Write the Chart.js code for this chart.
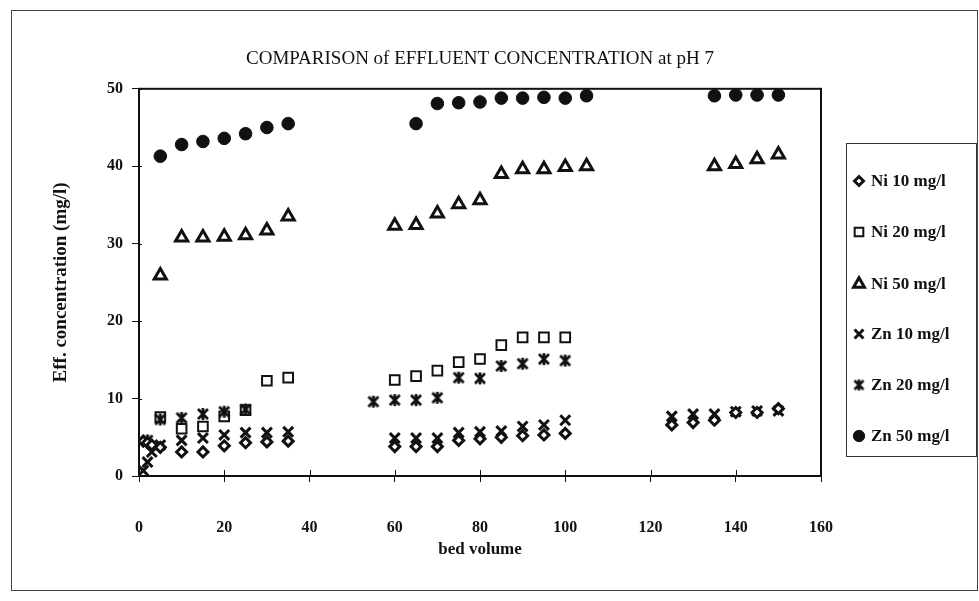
<!DOCTYPE html>
<html><head><meta charset="utf-8">
<script src="https://cdn.jsdelivr.net/npm/chart.js@4.4.1/dist/chart.umd.min.js"></script>
<style>html,body{margin:0;padding:0;background:#fff;}#wrap{width:979px;height:601px;}</style>
</head><body><div id="wrap"><canvas id="c" width="979" height="601"></canvas></div>
<script>
// ---- data ----
const seriesNames = ['Ni 10 mg/l', 'Ni 20 mg/l', 'Ni 50 mg/l', 'Zn 10 mg/l', 'Zn 20 mg/l', 'Zn 50 mg/l'];

const ni10X = [1, 2, 3, 5, 10, 15, 20, 25, 30, 35, 60, 65, 70, 75, 80, 85, 90, 95, 100, 125, 130, 135, 140, 145, 150];
const ni10Y = [4.5, 4.3, 4.0, 3.7, 3.1, 3.1, 3.9, 4.3, 4.4, 4.5, 3.8, 3.8, 3.8, 4.6, 4.8, 5.0, 5.2, 5.3, 5.5, 6.6, 6.9, 7.2, 8.2, 8.2, 8.7];

const ni20X = [5, 10, 15, 20, 25, 30, 35, 60, 65, 70, 75, 80, 85, 90, 95, 100];
const ni20Y = [7.6, 6.1, 6.4, 7.7, 8.5, 12.3, 12.7, 12.4, 12.9, 13.6, 14.7, 15.1, 16.9, 17.9, 17.9, 17.9];

const ni50X = [5, 10, 15, 20, 25, 30, 35, 60, 65, 70, 75, 80, 85, 90, 95, 100, 105, 135, 140, 145, 150];
const ni50Y = [25.9, 30.8, 30.8, 30.9, 31.1, 31.7, 33.5, 32.3, 32.4, 33.9, 35.1, 35.6, 39.0, 39.6, 39.6, 39.9, 40.0, 40.0, 40.3, 40.9, 41.5];

const zn10X = [1, 2, 3, 5, 10, 15, 20, 25, 30, 35, 60, 65, 70, 75, 80, 85, 90, 95, 100, 125, 130, 135, 140, 145, 150];
const zn10Y = [0.7, 1.8, 3.1, 4.0, 4.6, 4.9, 5.3, 5.6, 5.6, 5.7, 4.9, 4.9, 4.9, 5.6, 5.7, 5.8, 6.4, 6.6, 7.2, 7.7, 8.0, 8.0, 8.3, 8.4, 8.4];

const zn20X = [2, 5, 10, 15, 20, 25, 55, 60, 65, 70, 75, 80, 85, 90, 95, 100];
const zn20Y = [4.6, 7.3, 7.5, 8.0, 8.3, 8.6, 9.6, 9.8, 9.8, 10.1, 12.7, 12.6, 14.2, 14.5, 15.1, 14.9];

const zn50X = [5, 10, 15, 20, 25, 30, 35, 65, 70, 75, 80, 85, 90, 95, 100, 105, 135, 140, 145, 150];
const zn50Y = [41.3, 42.8, 43.2, 43.6, 44.2, 45.0, 45.5, 45.5, 48.1, 48.2, 48.3, 48.8, 48.8, 48.9, 48.8, 49.1, 49.1, 49.2, 49.2, 49.2];

const xTicks = [0, 20, 40, 60, 80, 100, 120, 140, 160];
const yTicks = [0, 10, 20, 30, 40, 50];

const titleText = 'COMPARISON of EFFLUENT CONCENTRATION at pH 7';
const xTitle = 'bed volume';
const yTitle = 'Eff. concentration (mg/l)';

// ---- marker for Zn 20 (asterisk-like "ж") ----
function makeStarMark(size, lw) {
  const cv = document.createElement('canvas');
  cv.width = size; cv.height = size;
  const g = cv.getContext('2d');
  g.strokeStyle = '#111'; g.lineWidth = lw; g.lineCap = 'butt';
  const a = 2, b = size - 2, m = size / 2;
  g.beginPath();
  g.moveTo(a, a); g.lineTo(b, b);
  g.moveTo(b, a); g.lineTo(a, b);
  g.moveTo(m, 1); g.lineTo(m, size - 1);
  g.stroke();
  return cv;
}
const starMark = makeStarMark(14, 2.8);
const starMarkLegend = makeStarMark(13, 2.6);

const pts = (xs, ys) => xs.map((x, i) => ({x: x, y: ys[i]}));

const styles = [
  {pointStyle: 'rectRot', pointRadius: 5, pointBorderWidth: 3, pointBackgroundColor: '#fff', pointBorderColor: '#111'},
  {pointStyle: 'rect', pointRadius: 6.8, pointBorderWidth: 2, pointBackgroundColor: 'rgba(255,255,255,0)', pointBorderColor: '#111'},
  {pointStyle: 'triangle', pointRadius: 7, pointBorderWidth: 3, pointBackgroundColor: '#fff', pointBorderColor: '#111'},
  {pointStyle: 'crossRot', pointRadius: 7, pointBorderWidth: 3, pointBackgroundColor: '#111', pointBorderColor: '#111'},
  {pointStyle: starMark, pointRadius: 7, pointBorderWidth: 0, pointBackgroundColor: '#111', pointBorderColor: '#111'},
  {pointStyle: 'circle', pointRadius: 6.3, pointBorderWidth: 1, pointBackgroundColor: '#111', pointBorderColor: '#111'}
];
const seriesData = [pts(ni10X, ni10Y), pts(ni20X, ni20Y), pts(ni50X, ni50Y), pts(zn10X, zn10Y), pts(zn20X, zn20Y), pts(zn50X, zn50Y)];

const datasets = seriesNames.map((n, i) => Object.assign({label: n, data: seriesData[i], showLine: false}, styles[i]));

const SERIF = "'Liberation Serif', 'DejaVu Serif', serif";

const decor = {
  id: 'decor',
  afterDraw(chart) {
    const ctx = chart.ctx;
    const ca = chart.chartArea;
    ctx.save();
    // outer page frame
    ctx.strokeStyle = '#444'; ctx.lineWidth = 1;
    ctx.strokeRect(11.5, 10.5, 966, 580);
    // plot frame
    ctx.strokeStyle = '#111'; ctx.lineWidth = 2;
    ctx.strokeRect(ca.left, ca.top, ca.right - ca.left, ca.bottom - ca.top);
    // inner tick marks
    ctx.lineWidth = 1;
    const xs = chart.scales.x, ys = chart.scales.y;
    xs.ticks.forEach(t => {
      const p = Math.round(xs.getPixelForValue(t.value)) + 0.5;
      ctx.beginPath(); ctx.moveTo(p, ca.bottom); ctx.lineTo(p, ca.bottom - 6); ctx.stroke();
    });
    ys.ticks.forEach(t => {
      const p = Math.round(ys.getPixelForValue(t.value)) + 0.5;
      ctx.beginPath(); ctx.moveTo(ca.left, p); ctx.lineTo(ca.left + 3, p); ctx.stroke();
    });
    // legend
    const lx = 846.5, ly = 143.5, lw = 130, lh = 313;
    ctx.strokeStyle = '#333'; ctx.lineWidth = 1;
    ctx.strokeRect(lx, ly, lw, lh);
    const rows = [181, 232, 284, 334, 385, 436];
    ctx.font = "bold 17px " + SERIF;
    ctx.textBaseline = 'middle'; ctx.textAlign = 'left';
    chart.data.datasets.forEach((ds, i) => {
      const y = rows[i];
      ctx.fillStyle = ds.pointBackgroundColor; ctx.strokeStyle = ds.pointBorderColor;
      ctx.lineWidth = ds.pointBorderWidth;
      const ps = i === 4 ? starMarkLegend : ds.pointStyle;
      Chart.helpers.drawPoint(ctx, {pointStyle: ps, radius: ds.pointRadius * 0.9, borderWidth: ds.pointBorderWidth, rotation: 0}, 859, y);
      ctx.fillStyle = '#111';
      ctx.fillText(ds.label, 871, y + 1);
    });
    ctx.restore();
  }
};

new Chart(document.getElementById('c'), {
  type: 'scatter',
  data: {datasets: datasets},
  options: {
    responsive: false,
    animation: false,
    devicePixelRatio: 1,
    layout: {padding: {left: 0, right: 19, top: 0, bottom: 0}},
    plugins: {
      legend: {display: false},
      tooltip: {enabled: false},
      title: {
        display: true, text: titleText, color: '#111',
        font: {family: SERIF, size: 19, weight: 'normal'},
        padding: {top: 48, bottom: 18}
      }
    },
    scales: {
      x: {
        type: 'linear', min: 0, max: 160,
        afterBuildTicks(s) { s.ticks = xTicks.map(v => ({value: v})); },
        ticks: {color: '#111', padding: 36, font: {family: SERIF, size: 16, weight: 'bold'}, maxRotation: 0},
        grid: {display: true, drawOnChartArea: false, color: '#111', tickLength: 6, lineWidth: 1},
        border: {display: false},
        title: {display: true, text: xTitle, color: '#111', font: {family: SERIF, size: 17, weight: 'bold'}, padding: {top: 0, bottom: 41}},
        afterFit(s) { s.height = 125; }
      },
      y: {
        type: 'linear', min: 0, max: 50,
        afterBuildTicks(s) { s.ticks = yTicks.map(v => ({value: v})); },
        ticks: {color: '#111', padding: 9, font: {family: SERIF, size: 16, weight: 'bold'}},
        grid: {display: true, drawOnChartArea: false, color: '#111', tickLength: 7, lineWidth: 1},
        border: {display: false},
        title: {display: true, text: yTitle, color: '#111', font: {family: SERIF, size: 19, weight: 'bold'}, padding: {top: 50, bottom: 0}},
        afterFit(s) { s.width = 139; }
      },
      yRight: {
        type: 'linear', position: 'right', display: true,
        ticks: {display: false},
        grid: {display: false},
        border: {display: false},
        afterFit(s) { s.width = 139; }
      }
    }
  },
  plugins: [decor]
});
</script>
</body></html>
